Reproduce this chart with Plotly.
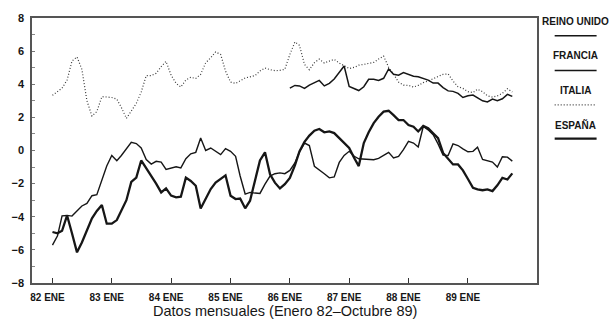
import pandas as pd
import plotly.graph_objects as go

# Monthly series, January 1982 - October 1989
meses = pd.date_range("1982-01-01", "1989-10-01", freq="MS")
meses_ru = pd.date_range("1986-01-01", "1989-10-01", freq="MS")

italia = [
    3.33, 3.55, 3.77, 4.25, 5.4, 5.65, 4.9, 3.0, 2.08, 2.35,
    3.25, 3.23, 3.2, 3.1, 2.6, 1.94, 2.4, 2.85, 3.53, 4.52,
    4.52, 4.66, 5.06, 5.38, 4.55, 4.05, 3.83, 4.26, 4.42, 4.35,
    4.6, 5.3, 5.6, 5.95, 5.8, 4.8, 4.13, 4.05, 4.2, 4.38,
    4.45, 4.52, 4.8, 4.98, 4.88, 4.82, 4.84, 4.9, 5.8, 6.55,
    6.35, 5.2, 4.88, 5.3, 5.52, 5.28, 5.4, 5.5, 5.28, 5.1,
    4.95, 5.02, 5.15, 5.2, 5.25, 5.32, 5.52, 5.7, 5.02, 4.62,
    4.13, 3.95, 3.93, 3.83, 3.93, 4.1, 4.2, 4.35, 4.45, 4.6,
    4.62, 4.2, 3.85, 3.75, 3.55, 3.5, 3.7, 3.55, 3.3, 3.22,
    3.3, 3.45, 3.73, 3.53,
]

reino_unido = [
    3.77, 3.93, 3.9, 3.75, 3.95, 4.09, 4.23, 3.9, 4.05, 4.32,
    4.75, 5.1, 3.87, 3.75, 3.62, 3.85, 4.3, 4.3, 4.23, 4.36,
    4.92, 4.6, 4.55, 4.7, 4.6, 4.48, 4.45, 4.35, 4.25, 4.07,
    4.07, 3.8, 3.6, 3.57, 3.45, 3.2, 3.3, 3.35, 3.2, 3.0,
    2.93, 3.1, 3.0, 3.12, 3.39, 3.27,
]

francia = [
    -5.71, -5.15, -3.95, -3.92, -3.96, -3.65, -3.35, -3.2, -2.73, -2.67,
    -1.85, -0.94, -0.3, -0.62, -0.3, 0.1, 0.5, 0.42, 0.15, -0.55,
    -0.82, -0.65, -0.7, -1.14, -1.08, -0.98, -1.05, -0.5, -0.2, -0.11,
    0.75, 0.0, 0.15, -0.05, -0.25, 0.11, -0.05, -0.35, -1.54, -2.63,
    -2.53, -2.57, -2.59, -2.03, -1.54, -1.4, -1.35, -1.4, -1.2, -0.75,
    -0.1, 0.45, 0.3, -0.95, -1.2, -1.4, -1.65, -1.6, -0.72, -0.3,
    -0.05, -0.35, -0.5, -0.52, -0.55, -0.56, -0.48, -0.3, -0.11, -0.45,
    -0.35, 0.05, 0.55, 0.45, 0.21, 1.45, 1.25, 0.95, 0.4, -0.28,
    -0.3, 0.4, 0.3, 0.1, -0.08, -0.05, 0.2, -0.54, -0.64, -0.7,
    -1.0, -0.38, -0.4, -0.64,
]

espana = [
    -4.92, -5.0, -4.85, -3.92, -5.0, -6.15, -5.55, -4.85, -4.1, -3.65,
    -3.29, -4.42, -4.42, -4.2, -3.6, -3.0, -1.9, -1.64, -0.6, -1.05,
    -1.55, -2.0, -2.53, -2.29, -2.72, -2.83, -2.79, -1.64, -1.84, -2.13,
    -3.5, -2.93, -2.33, -1.94, -1.74, -1.5, -2.73, -2.93, -2.9, -3.49,
    -3.03, -1.74, -0.6, -0.11, -1.44, -1.94, -2.29, -2.03, -1.66, -0.9,
    -0.05, 0.52, 0.9, 1.2, 1.3, 1.1, 1.15, 1.05, 0.75, 0.4,
    0.15, -0.45, -0.94, 0.45, 1.1, 1.65, 2.04, 2.35, 2.4, 2.14,
    1.84, 1.84, 1.54, 1.44, 1.15, 1.48, 1.34, 1.04, 0.75, -0.15,
    -0.5, -0.84, -0.84, -1.2, -1.72, -2.25, -2.35, -2.4, -2.35, -2.45,
    -2.1, -1.65, -1.75, -1.38,
]

ticks_anos = ["1982-01-01", "1983-01-01", "1984-01-01", "1985-01-01",
              "1986-01-01", "1987-01-01", "1988-01-01", "1989-01-01"]
ticks_texto = ["82 ENE", "83 ENE", "84 ENE", "85 ENE",
               "86 ENE", "87 ENE", "88 ENE", "89 ENE"]

FUENTE = "Liberation Sans, Arial, sans-serif"
NEGRO = "#161616"
PUNTEADO = dict(color="#3a3a3a", width=1.2, dash="1px,2px")

fig = go.Figure()
fig.add_trace(go.Scatter(x=meses, y=italia, mode="lines", name="ITALIA",
                         line=PUNTEADO))
fig.add_trace(go.Scatter(x=meses_ru, y=reino_unido, mode="lines", name="REINO UNIDO",
                         line=dict(color=NEGRO, width=1.5)))
fig.add_trace(go.Scatter(x=meses, y=francia, mode="lines", name="FRANCIA",
                         line=dict(color=NEGRO, width=1.4)))
fig.add_trace(go.Scatter(x=meses, y=espana, mode="lines", name="ESPAÑA",
                         line=dict(color=NEGRO, width=2.3)))

fig.update_layout(
    width=610, height=326,
    margin=dict(l=20, r=73, t=15, b=43),
    paper_bgcolor="white", plot_bgcolor="white",
    showlegend=False,
    font=dict(family=FUENTE, color=NEGRO),
)

fig.update_xaxes(
    range=["1981-08-28", "1990-03-02"],
    tickvals=ticks_anos, ticktext=ticks_texto,
    ticks="inside", ticklen=5, tickwidth=1, tickcolor="#333",
    tickfont=dict(size=10, weight="bold", color=NEGRO),
    ticklabelshift=-5, ticklabelstandoff=4,
    showgrid=False, zeroline=False,
    showline=True, linecolor="#555", linewidth=1.5, mirror=True,
)
fig.update_yaxes(
    range=[-8, 8], dtick=2, tick0=0,
    ticks="inside", ticklen=3, tickwidth=1, tickcolor="#777",
    minor=dict(dtick=1, ticks="inside", ticklen=3, tickcolor="#888"),
    tickfont=dict(size=11, weight="bold", color=NEGRO),
    ticklabelstandoff=4,
    showgrid=False, zeroline=False,
    showline=True, linecolor="#555", linewidth=1.5, mirror=True,
)

# Axis title
fig.add_annotation(text="Datos mensuales (Enero 82–Octubre 89)",
                   xref="paper", yref="paper", x=0.5, y=-0.107,
                   xanchor="center", yanchor="middle", showarrow=False,
                   font=dict(family=FUENTE, size=14.5, color=NEGRO))

# Legend: label above a line sample, stacked at the right
leyenda = [
    ("REINO UNIDO", 0.985, 0.933, dict(color=NEGRO, width=1.6)),
    ("FRANCIA", 0.858, 0.802, dict(color=NEGRO, width=1.4)),
    ("ITALIA", 0.728, 0.672, PUNTEADO),
    ("ESPAÑA", 0.597, 0.545, dict(color=NEGRO, width=2.3)),
]
for texto, y_txt, y_lin, estilo in leyenda:
    fig.add_annotation(text=texto, xref="paper", yref="paper",
                       x=1.077, y=y_txt, xanchor="center", yanchor="middle",
                       showarrow=False,
                       font=dict(family=FUENTE, size=10, weight="bold", color=NEGRO))
    fig.add_shape(type="line", xref="paper", yref="paper",
                  x0=1.035, x1=1.118, y0=y_lin, y1=y_lin, line=estilo)

fig.write_html("out.html")
